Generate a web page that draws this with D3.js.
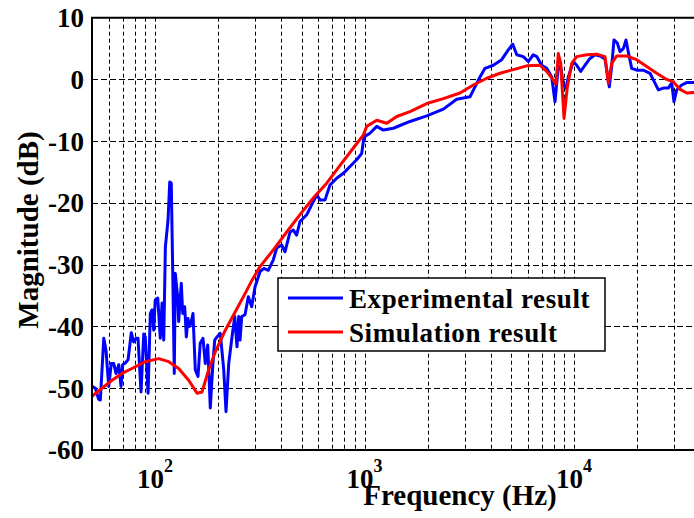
<!DOCTYPE html>
<html>
<head>
<meta charset="utf-8">
<script src="https://cdn.jsdelivr.net/npm/d3@7"></script>
<style>
  body { margin: 0; background: #fff; }
  svg { display: block; font-family: "Liberation Serif", "Times New Roman", serif; font-weight: bold; }
</style>
</head>
<body>
<svg id="chart" width="694" height="518"></svg>
<script>
// measured curve (experiment)
const expFreq = [50,51.9,53.8,54.8,56.9,58.3,60.1,61.8,63.5,65.1,
  67.1,68.8,70,72.1,74.3,75.3,77,79,81.1,82.9,
  85.7,88.3,89.8,92.6,94.9,96.7,98.5,100.2,103,105.9,
  108,110,112,115.3,117.5,119.5,121.4,123.5,124.9,128.2,
  129.6,133.4,135.5,138.5,141,143.6,145.7,148.4,151.7,155.6,
  160.3,164.3,169.3,173.7,178.4,183.5,188.4,192.6,197.6,204.8,
  212.7,218.1,224.7,232.9,240,246.1,250.7,254.4,259.2,268.7,
  278.7,289.3,299.9,317,331,347,366.8,380.7,402,417,
  440.7,457,474,491.8,529.5,559,591,613,647.6,684,
  736,792,852,917,969,993.5,1061,1143,1229,1372,
  1648,1980,2377,2753,2960,3187,3366,3556,3758,4116,
  4514,4854,5096,5327,5724,6046,6388,6634,7008,7404,
  7822,8110,8409,8633,8883,9152,9386,9920,10290,10760,
  11270,11910,12590,13300,14050,14730,15120,15510,16080,16570,
  17180,17700,18140,18840,19900,21400,23040,24340,25250,26670,
  28170,29240,29990,30900,32640,34490,37370,40000]
const expDb = [-49.7,-50.0,-51.8,-51.9,-41.9,-43.8,-49.7,-46.0,-46.0,-47.6,
  -46.2,-49.7,-46.2,-45.9,-45.4,-43.8,-41.0,-42.5,-41.9,-41.9,
  -50.6,-41.2,-41.7,-50.8,-37.9,-37.3,-40.6,-35.7,-35.4,-41.9,
  -36.2,-42.2,-27.1,-22.8,-16.6,-16.8,-30.9,-47.6,-31.4,-35.2,
  -39.2,-33.0,-37.9,-36.8,-41.7,-38.7,-40.0,-39.5,-37.9,-47.0,
  -48.1,-42.7,-41.9,-46.0,-43.0,-53.2,-46.5,-42.2,-41.7,-41.1,
  -47.0,-53.8,-46.0,-41.7,-38.4,-43.3,-38.4,-42.2,-38.4,-38.1,
  -35.2,-36.8,-33.6,-31.1,-30.6,-30.9,-29.2,-27.3,-26.8,-27.9,
  -24.7,-24.4,-25.2,-23.0,-21.9,-20.3,-18.7,-19.5,-19.5,-17.1,
  -16.0,-15.2,-14.1,-13.0,-12.0,-9.3,-8.7,-7.6,-8.2,-7.9,
  -6.8,-5.9,-4.8,-3.2,-3.0,-2.8,-1.2,0.4,1.8,2.3,
  3.2,4.8,5.7,4.0,3.7,2.9,4.0,3.7,2.3,1.8,
  0.4,-3.6,2.1,2.1,-0.9,-1.4,0.4,2.9,2.3,1.3,
  2.3,3.4,4.0,3.8,3.3,-1.2,2.1,6.4,5.9,4.5,
  5.0,6.4,4.5,1.8,1.5,1.5,1.0,-0.6,-1.7,-1.4,
  -1.4,-0.6,-3.6,-1.7,-0.9,-0.5,-0.5,-0.5]

// simulated curve
const simFreq = [50,55.8,62.3,69.5,77.6,89.8,104.1,116.2,129.6,144.7,
  158.6,167.5,180.3,193.9,216.4,241.5,269.6,290.2,317,366.8,
  425,491.8,569,659.6,763.7,883.9,986,1024,1143,1276,
  1424,1648,1980,2377,2855,3304,3828,4431,5129,5943,
  6876,7404,7961,8201,8409,8633,8955,9287,9747,10290,
  11490,12820,14050,14570,15120,15970,17830,19900,22220,24800,
  27680,29770,32050,34490,37370,40000]
const simDb = [-51.3,-50.0,-48.7,-47.6,-46.8,-45.7,-45.2,-45.7,-46.8,-48.7,
  -50.8,-50.6,-47.0,-44.1,-40.6,-37.6,-34.6,-32.5,-30.3,-27.6,
  -24.7,-21.9,-19.2,-16.8,-13.9,-11.1,-9.0,-7.6,-6.6,-7.1,
  -6.0,-5.2,-3.9,-3.1,-2.2,-0.9,0.2,1.0,1.6,2.2,
  2.3,1.3,-0.1,-0.7,4.2,2.6,-6.3,-1.2,2.6,3.7,
  4.0,4.1,3.7,-0.6,2.6,3.8,3.8,3.2,2.1,1.0,
  0.0,-0.4,-1.6,-2.2,-2.1,-2.3]

const yTicks = [-60,-50,-40,-30,-20,-10,0,10]
const xDecades = [100, 1000, 10000]
const legendLabels = ["Experimental result", "Simulation result"]
const colors = ["#0000ff", "#ff0000"]

const svg = d3.select("#chart")
const plotLeft = 92, plotTop = 17.7, plotBottom = 450, plotRight = 720.5
// the original axes run past the cropped right edge (to 50 kHz)
const x = d3.scaleLog().domain([50, 50000]).range([plotLeft, plotRight])
const y = d3.scaleLinear().domain([-60, 10]).range([plotBottom, plotTop])

svg.append("rect").attr("width", 694).attr("height", 518).attr("fill", "#fff")

svg.append("defs").append("clipPath").attr("id", "plotClip")
  .append("rect")
  .attr("x", plotLeft).attr("y", plotTop)
  .attr("width", plotRight - plotLeft).attr("height", plotBottom - plotTop)

// grid
const minor = []
xDecades.concat([100000]).forEach(d => {
  for (let k = 1; k <= 9; k++) {
    const v = d / 10 * k
    if (v > 50 && v < 50000) minor.push(v)
  }
})
const grid = svg.append("g")
  .attr("stroke", "#000").attr("stroke-width", 1).attr("stroke-dasharray", "4,3")
grid.selectAll("line.v").data(minor).join("line")
  .attr("class", "v")
  .attr("x1", d => Math.round(x(d)) + 0.5).attr("x2", d => Math.round(x(d)) + 0.5)
  .attr("y1", plotTop).attr("y2", plotBottom)
grid.selectAll("line.h").data(yTicks.slice(1, -1)).join("line")
  .attr("class", "h")
  .attr("x1", plotLeft).attr("x2", plotRight)
  .attr("y1", d => Math.round(y(d)) + 0.5).attr("y2", d => Math.round(y(d)) + 0.5)
  .attr("stroke-dasharray", "6,3")

// curves
const line = d3.line().x(d => x(d[0])).y(d => y(d[1]))
const plot = svg.append("g").attr("clip-path", "url(#plotClip)")
plot.append("path")
  .attr("d", line(d3.zip(expFreq, expDb)))
  .attr("fill", "none").attr("stroke", colors[0]).attr("stroke-width", 3)
  .attr("stroke-linejoin", "round")
plot.append("path")
  .attr("d", line(d3.zip(simFreq, simDb)))
  .attr("fill", "none").attr("stroke", colors[1]).attr("stroke-width", 3)
  .attr("stroke-linejoin", "round")

// axes frame
svg.append("path")
  .attr("d", `M${plotRight},${plotTop}H${plotLeft}V${plotBottom}H${plotRight}`)
  .attr("fill", "none").attr("stroke", "#000").attr("stroke-width", 2)

// y tick labels
svg.append("g").selectAll("text").data(yTicks).join("text")
  .attr("x", 84).attr("y", d => y(d)).attr("dy", "0.35em")
  .attr("text-anchor", "end").attr("font-size", 27)
  .text(d => String(d))

// x tick labels 10^n
const xl = svg.append("g").selectAll("text").data(xDecades).join("text")
  .attr("x", d => x(d)).attr("y", 488)
  .attr("text-anchor", "middle").attr("font-size", 27)
xl.append("tspan").text("10")
xl.append("tspan").attr("dy", -16).attr("font-size", 18).text(d => Math.round(Math.log10(d)))

// axis titles
svg.append("text")
  .attr("x", 460).attr("y", 505)
  .attr("text-anchor", "middle").attr("font-size", 29)
  .text("Frequency (Hz)")
svg.append("text")
  .attr("transform", "translate(38,230) rotate(-90)")
  .attr("text-anchor", "middle").attr("font-size", 29)
  .text("Magnitude (dB)")

// legend
const lg = svg.append("g")
lg.append("rect")
  .attr("x", 278).attr("y", 278).attr("width", 327).attr("height", 73)
  .attr("fill", "#fff").attr("stroke", "#000").attr("stroke-width", 1.5)
const rows = lg.selectAll("g").data(legendLabels).join("g")
  .attr("transform", (d, i) => `translate(0,${298 + i * 34})`)
rows.append("line")
  .attr("x1", 288).attr("x2", 343)
  .attr("stroke", (d, i) => colors[i]).attr("stroke-width", 3)
rows.append("text")
  .attr("x", 349).attr("y", 9.5).attr("font-size", 27)
  .attr("letter-spacing", 0.6)
  .text(d => d)
</script>
</body>
</html>
